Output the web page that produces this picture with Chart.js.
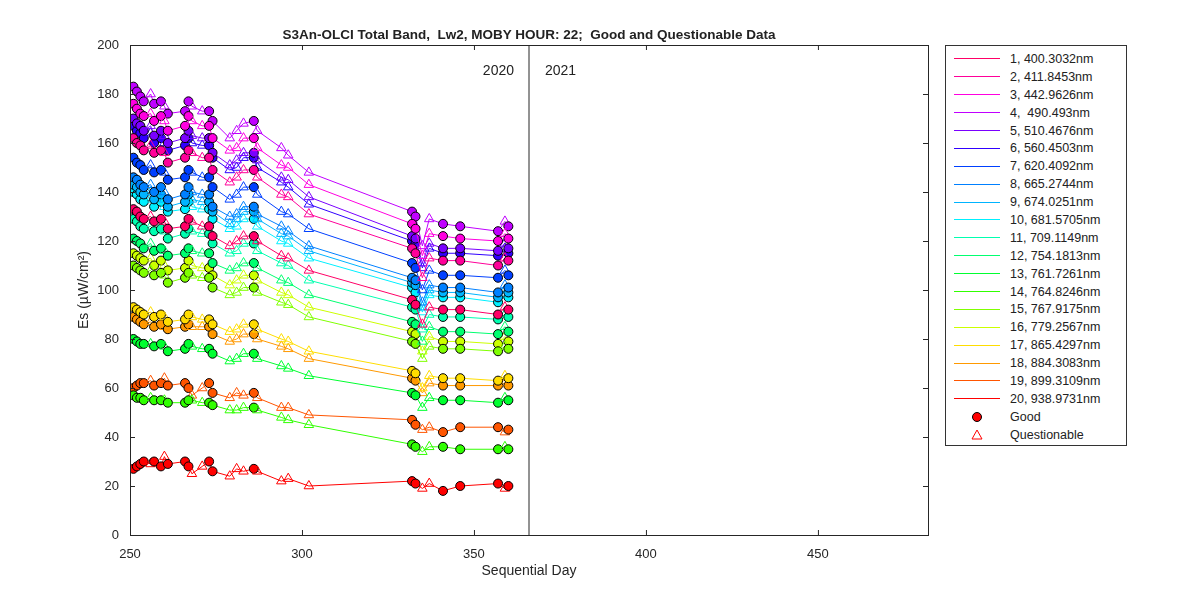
<!DOCTYPE html>
<html>
<head>
<meta charset="utf-8">
<script src="https://cdn.jsdelivr.net/npm/chart.js@4"></script>
<style>
  body { margin: 0; background: #fff; font-family: "Liberation Sans", Arial, sans-serif; }
  #wrap { position: relative; width: 1200px; height: 600px; }
  #title { position: absolute; left: 130px; width: 798px; top: 27px; text-align: center; font-weight: bold; font-size: 13.5px; color: #222; }
  #legend { position: absolute; left: 945px; top: 45px; width: 182px; height: 401px; border: 1px solid #333; box-sizing: border-box; background: #fff; font-size: 12.5px; color: #222; padding-top: 4px; }
  .row { height: 17.9px; display: flex; align-items: center; }
  .sw { width: 46px; margin-left: 8px; border-top: 1px solid; }
  .lb { margin-left: 10px; white-space: pre; }
  .mk { width: 46px; margin-left: 8px; display: flex; justify-content: center; }
</style>
</head>
<body>
<div id="wrap">
  <canvas id="c" width="1200" height="600"></canvas>
  <div id="title">S3An-OLCI Total Band,&nbsp; Lw2, MOBY HOUR: 22;&nbsp; Good and Questionable Data</div>
  <div id="legend"></div>
</div>
<script>
const days = [251,252,253,254,256,257,259,260,261,266,267,268,271,273,274,279,281,283,286,287,294,296,302,332,333,335,337,341,346,357,359,360];
// G = good, Q = questionable
const quality = ["G","G","G","G","Q","G","G","Q","G","G","G","Q","Q","G","G","Q","Q","Q","G","Q","Q","Q","Q","G","G","Q","Q","G","G","G","Q","G"];

const bandNames = ["1, 400.3032nm","2, 411.8453nm","3, 442.9626nm","4,  490.493nm","5, 510.4676nm","6, 560.4503nm","7, 620.4092nm","8, 665.2744nm","9, 674.0251nm","10, 681.5705nm","11, 709.1149nm","12, 754.1813nm","13, 761.7261nm","14, 764.8246nm","15, 767.9175nm","16, 779.2567nm","17, 865.4297nm","18, 884.3083nm","19, 899.3109nm","20, 938.9731nm"];
const bandColors = ["#ff0066","#ff0099","#ff00e0","#c000ff","#7a00ff","#3000ff","#0040ff","#0080ff","#00b4ff","#00f0ff","#00ffb0","#00ff70","#00ff30","#30ff00","#80ff00","#ccff00","#ffdd00","#ff9900","#ff5500","#ff0000"];

const s1  = [133,132,130,129,130,128,129,128,125,126,129,128,126,126,122,118,120,122,122,120,114,113,108,96,94,86,93,92,92,90,93,92];
const s2  = [162,160,159,157,159,156,157,156,152,154,157,156,154,154,149,144,146,149,149,146,139,138,131,117,115,105,113,112,112,110,113,112];
const s3  = [176,174,172,171,172,169,171,169,165,167,171,169,167,167,162,157,158,162,162,158,151,150,143,127,125,114,123,122,121,120,123,121];
const s4  = [183,181,179,177,180,176,177,175,172,173,177,175,173,173,169,162,165,168,169,165,158,155,148,132,130,118,129,127,126,124,128,126];
const s5  = [170,168,167,165,167,163,165,163,160,162,165,163,162,162,156,151,153,156,156,153,146,145,138,122,121,111,119,117,117,116,119,117];
const s6  = [167,165,164,162,164,160,162,160,157,159,162,160,159,159,154,149,150,154,154,150,144,142,135,120,119,109,117,115,115,114,117,115];
const s7  = [154,152,151,149,151,148,149,148,145,146,149,148,146,146,142,137,139,142,142,139,132,131,125,111,109,100,108,106,106,105,108,106];
const s8  = [146,145,143,142,143,140,142,140,137,139,142,140,139,139,134,130,131,134,134,131,126,124,118,105,104,95,102,101,101,99,102,101];
const s9  = [143,142,140,139,140,137,139,137,134,136,139,137,136,136,132,127,129,132,132,129,123,122,116,103,102,93,100,99,99,97,100,99];
const s10 = [140,139,137,136,137,134,136,134,132,133,136,134,133,133,129,125,126,129,129,126,120,119,113,101,99,91,98,97,97,95,98,97];
const s11 = [129,128,126,125,126,124,125,124,121,123,125,124,123,123,119,115,116,119,119,116,111,110,104,93,92,84,90,89,89,88,90,89];
const s12 = [121,120,119,117,119,116,117,116,114,115,117,116,115,115,111,108,109,111,111,109,104,103,98,87,86,79,85,83,83,82,85,83];
const s13 = [80,79,78,78,78,77,78,77,75,76,78,77,76,76,74,71,72,74,74,72,69,68,65,58,57,52,56,55,55,54,56,55];
const s14 = [57,56,56,55,56,55,55,55,54,54,55,55,54,54,53,51,51,52,52,51,48,47,45,37,36,34,36,36,35,35,36,35];
const s15 = [110,109,108,107,108,106,107,106,103,105,107,106,105,105,101,98,99,101,101,99,95,94,89,79,78,72,77,76,76,75,77,76];
const s16 = [115,114,113,112,113,110,112,110,108,109,112,110,109,109,106,102,104,106,106,104,99,98,93,83,82,75,81,79,79,78,81,79];
const s17 = [93,92,91,90,91,89,90,89,87,88,90,89,88,88,86,83,84,86,86,84,80,79,75,67,66,60,65,64,64,63,65,64];
const s18 = [89,88,87,86,87,85,86,85,84,85,86,85,85,85,82,79,80,82,82,80,77,76,72,64,63,58,62,61,61,61,62,61];
const s19 = [60,61,62,62,63,61,62,64,61,62,60,57,60,62,58,56,58,57,58,56,52,52,49,47,45,43,44,42,44,44,42,43];
const s20 = [27,28,29,30,29,30,28,32,29,30,28,25,28,30,26,24,27,26,27,26,22,23,20,22,21,19,21,18,20,21,19,20];
const series = [s1,s2,s3,s4,s5,s6,s7,s8,s9,s10,s11,s12,s13,s14,s15,s16,s17,s18,s19,s20];

const xTicks = [250,300,350,400,450];
const yearSplit = 366;
const yearLabels = ["2020","2021"];

const datasets = series.map((vals, i) => {
  const col = bandColors[i];
  return {
    label: bandNames[i],
    data: vals.map((v, j) => ({ x: days[j], y: v })),
    showLine: true,
    borderColor: col,
    borderWidth: 1,
    pointStyle: quality.map(q => q === "G" ? "circle" : "triangle"),
    pointRadius: quality.map(q => q === "G" ? 4.5 : 5.5),
    pointBackgroundColor: quality.map(q => q === "G" ? col : "rgba(255,255,255,0)"),
    pointBorderColor: quality.map(q => q === "G" ? "#000" : col),
    pointBorderWidth: 1
  };
});

const frame = {
  id: "frame",
  afterDraw(chart) {
    const { ctx, chartArea: a, scales } = chart;
    ctx.save();
    ctx.strokeStyle = "#262626";
    ctx.lineWidth = 1;
    ctx.strokeRect(a.left + 0.5, a.top + 0.5, a.width, a.height);
    const xs = scales.x.getPixelForValue(yearSplit);
    ctx.beginPath();
    ctx.moveTo(xs, a.top); ctx.lineTo(xs, a.bottom); ctx.stroke();
    ctx.fillStyle = "#222";
    ctx.font = "14px 'Liberation Sans', Arial";
    ctx.textBaseline = "middle";
    ctx.textAlign = "right";
    ctx.fillText(yearLabels[0], xs - 15, a.top + 26);
    ctx.textAlign = "left";
    ctx.fillText(yearLabels[1], xs + 16, a.top + 26);
    // inward ticks
    ctx.beginPath();
    xTicks.forEach(t => {
      const p = scales.x.getPixelForValue(t) + 0.5;
      ctx.moveTo(p, a.bottom); ctx.lineTo(p, a.bottom - 5);
      ctx.moveTo(p, a.top); ctx.lineTo(p, a.top + 5);
    });
    for (let t = 0; t <= 200; t += 20) {
      const p = scales.y.getPixelForValue(t) + 0.5;
      ctx.moveTo(a.left, p); ctx.lineTo(a.left + 5, p);
      ctx.moveTo(a.right, p); ctx.lineTo(a.right - 5, p);
    }
    ctx.stroke();
    ctx.restore();
  }
};

new Chart(document.getElementById("c"), {
  type: "scatter",
  data: { datasets },
  options: {
    responsive: false,
    animation: false,
    layout: { padding: { top: 45, right: 272, left: 72, bottom: 16 } },
    plugins: { legend: { display: false }, tooltip: { enabled: false } },
    scales: {
      x: {
        min: 250, max: 482,
        afterFit: s => { s.height = 49; },
        afterBuildTicks: s => { s.ticks = xTicks.map(v => ({ value: v })); },
        grid: { display: false },
        border: { display: false },
        ticks: { color: "#262626", font: { size: 13, family: "Liberation Sans" }, padding: 4 },
        title: { display: true, text: "Sequential Day", color: "#262626", font: { size: 14, family: "Liberation Sans" }, padding: { top: 2 } }
      },
      y: {
        min: 0, max: 200,
        afterFit: s => { s.width = 58; },
        ticks: { stepSize: 20, color: "#262626", font: { size: 13, family: "Liberation Sans" } },
        grid: { display: false },
        border: { display: false },
        title: { display: true, text: "Es (µW/cm²)", color: "#262626", font: { size: 14, family: "Liberation Sans" }, padding: { bottom: 6 } }
      }
    }
  },
  plugins: [frame]
});

// legend
const leg = document.getElementById("legend");
bandNames.forEach((n, i) => {
  leg.insertAdjacentHTML("beforeend",
    `<div class="row"><span class="sw" style="border-color:${bandColors[i]}"></span><span class="lb">${n}</span></div>`);
});
leg.insertAdjacentHTML("beforeend",
  `<div class="row"><span class="mk"><svg width="12" height="12"><circle cx="6" cy="6" r="4.5" fill="#ff0000" stroke="#000"/></svg></span><span class="lb">Good</span></div>`);
leg.insertAdjacentHTML("beforeend",
  `<div class="row"><span class="mk"><svg width="12" height="12"><polygon points="6,1 11,10 1,10" fill="none" stroke="#ff0000"/></svg></span><span class="lb">Questionable</span></div>`);
</script>
</body>
</html>
